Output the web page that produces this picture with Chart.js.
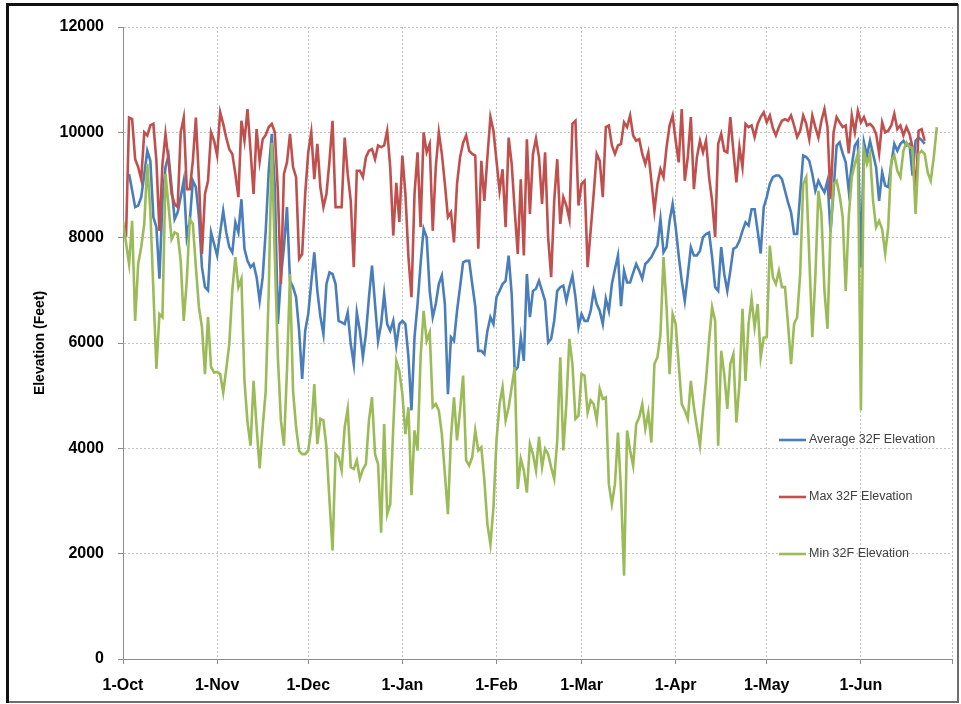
<!DOCTYPE html>
<html>
<head>
<meta charset="utf-8">
<title>32F Elevation</title>
<script src="https://cdn.jsdelivr.net/npm/chart.js@4.4.1/dist/chart.umd.min.js"></script>
<style>
    html, body { margin: 0; padding: 0; background: #ffffff; overflow: hidden; }
    canvas { display: block; }
</style>
</head>
<body>
<canvas id="elevationChart" width="961" height="704"></canvas>
<script>
// Daily values, day 0 = 1-Oct
const maxElevation = [
    null, 8010, 10280, 10250, 9490, 9340, 9110, 10000, 9940, 10130,
    10160, 9460, 8130, 9400, 9970, 9460, 8830, 8640, 8580, 10000,
    10280, 8920, 8920, 9460, 10280, 9110, 7690, 8830, 9080, 10000,
    9840, 9560, 10380, 10160, 9900, 9680, 9590, 9210, 8770, 10220,
    9840, 10440, 9650, 8830, 10060, 9450, 9870, 9950, 10100, 10160,
    10000, 8890, 7120, 9210, 9430, 9970, 9340, 9150, 7600, 7690,
    8830, 9620, 10000, 9110, 9780, 8960, 8580, 8830, 9460, 10220,
    8580, 8580, 8580, 9900, 9210, 8700, 7440, 9270, 9270, 9150,
    9530, 9650, 9680, 9490, 9750, 9720, 9750, 10030, 9340, 8040,
    9040, 8300, 9560, 8830, 7630, 6870, 8830, 9620, 8200, 10000,
    9620, 9780, 8130, 9340, 10000, 9590, 9020, 8390, 8480, 7910,
    9020, 9530, 9800, 9940, 9650, 9590, 9560, 7790, 9460, 8700,
    9530, 10290, 10030, 9460, 8890, 9300, 8200, 9900, 9400, 8510,
    7690, 9110, 7660, 9870, 8450, 9590, 9880, 9525, 8640, 9620,
    8010, 7250, 8700, 9490, 8260, 8770, 8610, 8350, 10160, 10220,
    8610, 9020, 9080, 7440, 8130, 8830, 9590, 9460, 8770, 10100,
    10130, 9750, 9590, 9750, 9780, 10190, 10100, 10320, 9940, 9840,
    9870, 9590, 9400, 9620, 9080, 8510, 9020, 9300, 9150, 9720,
    10130, 10320, 9840, 9430, 10440, 9080, 9530, 10290, 8920, 9530,
    9840, 9620, 9840, 9150, 8700, 8010, 9780, 9970, 9650, 9620,
    10290, 9650, 9050, 9720, 9340, 10160, 10100, 10130, 9910, 10160,
    10290, 10380, 10190, 10320, 10080, 9940, 10100, 10220, 10250, 10220,
    10320, 10130, 9910, 10030, 10320, 10160, 9870, 10320, 10100, 9900,
    10220, 10440, 10100, 8730, 10000, 10290, 10190, 10100, 10130, 9600,
    10320, 10000, 10410, 10190, 10290, 10130, 10160, 10100, 9970, 9600,
    10190, 10000, 10030, 10130, 10350, 10060, 10130, 9940, 10100, 9970,
    9720, 8800, 10030, 10060, 9840, null, null, null, null,
];

const avgElevation = [
    null, null, 9210, 8900, 8580, 8610, 8770, 9200, 9650, 9460,
    8390, 8200, 7220, 8700, 9340, 9560, 8960, 8350, 8480, 8770,
    9080, 8010, 8320, 9080, 8960, 8390, 7440, 7060, 7000, 8100,
    7880, 7660, 8100, 8510, 8100, 7820, 7720, 8290, 8100, 8730,
    7790, 7560, 7440, 7500, 7250, 6800, 7250, 8130, 9270, 9970,
    8960, 6360, 7250, 7820, 8580, 7180, 7060, 6870, 6230, 5320,
    6230, 6550, 7150, 7720, 6990, 6500, 6170, 7120, 7340, 7310,
    7120, 6420, 6390, 6360, 6580, 5980, 5600, 6580, 6230, 5730,
    6170, 6870, 7470, 6740, 6040, 6360, 6930, 6360, 6230, 6420,
    5950, 6360, 6420, 6360, 5730, 4720, 6110, 6740, 7500, 8170,
    8010, 6990, 6490, 6740, 7120, 7280, 6740, 5030, 6110, 6040,
    6610, 7060, 7530, 7560, 7560, 7120, 6700, 5850, 5850, 5790,
    6230, 6490, 6360, 6870, 6990, 7120, 7180, 7660, 6930, 5470,
    5540, 6110, 5660, 7310, 6490, 6990, 7030, 7180, 6990, 6800,
    6010, 6080, 6420, 6990, 7060, 7090, 6800, 7060, 7280, 6870,
    6300, 6550, 6420, 6420, 6610, 6990, 6740, 6610, 6360, 6840,
    6610, 7120, 7400, 7660, 6700, 7370, 7150, 7150, 7330, 7500,
    7370, 7220, 7500, 7560, 7630, 7750, 7850, 8350, 7720, 7820,
    8320, 8640, 8200, 7660, 7180, 6800, 7300, 7820, 7660, 7660,
    7750, 8010, 8070, 8100, 7630, 7060, 6990, 7820, 7310, 6990,
    7370, 7790, 7820, 7940, 8130, 8290, 8230, 8540, 8540, 8130,
    7700, 8580, 8770, 9020, 9150, 9180, 9180, 9110, 8890, 8670,
    8480, 8070, 8070, 8830, 9560, 9530, 9460, 9210, 8890, 9080,
    8960, 8860, 9080, 8100, 8890, 9750, 9810, 9600, 9430, 8890,
    9370, 9750, 9840, 7440, 9810, 9560, 9840, 9590, 9340, 8700,
    9240, 8990, 8960, 9400, 9780, 9650, 9780, 9840, 9750, 9780,
    9180, 9840, 9900, 9850, 9780, null, null, null, null,
];

const minElevation = [
    8320, 7900, 7500, 8320, 6420, 7500, 7820, 8260, 9400, 8510,
    7000, 5510, 6550, 6490, 9210, 8600, 7970, 8100, 8070, 7560,
    6420, 7180, 8350, 8260, 7440, 6680, 6300, 5410, 6490, 5540,
    5440, 5450, 5410, 5060, 5500, 5980, 7000, 7630, 7060, 7220,
    5280, 4500, 4050, 5280, 4400, 3620, 4400, 5090, 6990, 9800,
    7630, 5730, 4530, 4050, 5470, 7310, 5090, 4400, 3950, 3890,
    3890, 3960, 4370, 5220, 4080, 4560, 4530, 4020, 3000, 2060,
    3890, 3830, 3580, 4400, 4750, 3640, 3610, 3770, 3430, 3600,
    3700, 4530, 4970, 3890, 3700, 2400, 4460, 2750, 2940, 4400,
    5660, 5470, 5030, 4270, 4780, 3110, 4340, 3960, 5730, 6610,
    6040, 6200, 4780, 4840, 4720, 4270, 3510, 2750, 4210, 4970,
    4150, 4720, 5380, 3770, 3670, 3830, 4340, 3960, 4020, 3390,
    2560, 2180, 2880, 4150, 4840, 5160, 4530, 4780, 5160, 5540,
    3230, 3800, 3580, 3160, 4080, 3890, 3580, 4220, 3640, 3990,
    3890, 3640, 3420, 4150, 5730, 3960, 4840, 6080, 5600, 4560,
    4620, 5410, 5380, 4680, 4910, 4840, 4530, 5130, 4940, 4970,
    3320, 2940, 3320, 4300, 3200, 1580, 4340, 3960, 3670, 4460,
    4590, 4840, 4370, 4680, 4110, 5600, 5730, 6170, 7630, 6680,
    5410, 6550, 6360, 5600, 4840, 4720, 4560, 5280, 4780, 4400,
    4050, 4720, 5300, 6040, 6680, 6420, 4050, 5850, 5410, 4750,
    5600, 5790, 4490, 5220, 6650, 5280, 6360, 6840, 6300, 6740,
    5730, 6100, 6110, 7850, 7250, 7120, 7370, 7060, 7060, 6360,
    5600, 6360, 6490, 7310, 9020, 9150, 7630, 6110, 7250, 8890,
    8450, 6990, 6270, 8130, 9020, 9080, 8800, 8390, 6990, 8400,
    9150, 9400, 9590, 4720, 9650, 9400, 9590, 8700, 8200, 8320,
    8160, 7700, 8200, 9460, 9560, 9270, 9150, 9650, 9810, 9720,
    9700, 8450, 9590, 9650, 9590, 9240, 9080, 9530, 10100,
];

// Month starts as day offsets from 1-Oct, with their tick labels
const monthStarts = [0, 31, 61, 92, 123, 151, 182, 212, 243, 273];
const monthLabels = ["1-Oct", "1-Nov", "1-Dec", "1-Jan", "1-Feb", "1-Mar", "1-Apr", "1-May", "1-Jun", ""];

const seriesNames = ["Average 32F Elevation", "Max 32F Elevation", "Min 32F Elevation"];

const colors = {
    avg: "#4a7ebb",
    max: "#c0504d",
    min: "#9bbb59",
    grid: "#c4c4c4",
    axis: "#8c8c8c",
};

Chart.defaults.font.family = "'Liberation Sans', Arial, sans-serif";

function toPoints(values) {
    return values.map((v, i) => ({ x: i, y: v }));
}

function makeSeries(label, values, color, order) {
    return {
        label: label,
        data: toPoints(values),
        borderColor: color,
        backgroundColor: color,
        borderWidth: 2.6,
        pointRadius: 0,
        tension: 0,
        order: order, // Excel draws min on top
    };
}

// Legend sits inside the plot, right side, widely spaced
const insideLegend = {
    id: "insideLegend",
    afterDatasetsDraw(chart) {
        const ctx = chart.ctx;
        const rows = [440, 497, 554];
        ctx.save();
        ctx.font = "12.5px 'Liberation Sans', Arial, sans-serif";
        ctx.textBaseline = "middle";
        ctx.fillStyle = "#404040";
        chart.data.datasets.forEach((ds, i) => {
            const y = rows[i];
            ctx.strokeStyle = ds.borderColor;
            ctx.lineWidth = 2.6;
            ctx.beginPath();
            ctx.moveTo(779, y);
            ctx.lineTo(806, y);
            ctx.stroke();
            ctx.fillText(ds.label, 809, y);
        });
        ctx.restore();
    },
};

// Outer picture frame
const frame = {
    id: "frame",
    afterDraw(chart) {
        const ctx = chart.ctx;
        ctx.save();
        ctx.strokeStyle = "#6e6e6e";
        ctx.lineWidth = 2;
        ctx.strokeRect(8, 5, 950, 697);
        ctx.strokeStyle = "#111111";
        ctx.lineWidth = 3;
        ctx.beginPath();
        ctx.moveTo(7.5, 703);
        ctx.lineTo(7.5, 4.5);
        ctx.lineTo(958, 4.5);
        ctx.stroke();
        ctx.restore();
    },
};

document.addEventListener("DOMContentLoaded", () => {
    const ctx = document.getElementById("elevationChart").getContext("2d");

    new Chart(ctx, {
        type: "line",
        data: {
            datasets: [
                makeSeries(seriesNames[0], avgElevation, colors.avg, 3),
                makeSeries(seriesNames[1], maxElevation, colors.max, 2),
                makeSeries(seriesNames[2], minElevation, colors.min, 1),
            ],
        },
        options: {
            responsive: false,
            animation: false,
            devicePixelRatio: 1,
            layout: {
                padding: { left: 0, right: 9, top: 27, bottom: 0 },
            },
            plugins: {
                legend: { display: false },
                tooltip: { enabled: false },
            },
            scales: {
                x: {
                    type: "linear",
                    min: 0,
                    max: 273,
                    afterBuildTicks: (axis) => {
                        axis.ticks = monthStarts.map((v) => ({ value: v }));
                    },
                    afterFit: (scale) => {
                        scale.height = 45;
                        scale.paddingRight = 0; // last label is empty
                    },
                    ticks: {
                        autoSkip: false,
                        maxRotation: 0,
                        padding: 12,
                        color: "#000000",
                        font: { size: 16, weight: "bold" },
                        callback: (value, index) => monthLabels[index],
                    },
                    grid: {
                        color: colors.grid,
                        tickColor: colors.axis,
                        tickLength: 5,
                    },
                    border: { color: colors.axis, dash: [2, 2] },
                },
                y: {
                    min: 0,
                    max: 12000,
                    afterFit: (scale) => {
                        scale.width = 123;
                    },
                    ticks: {
                        stepSize: 2000,
                        padding: 14,
                        color: "#000000",
                        font: { size: 16, weight: "bold" },
                        callback: (value) => String(value),
                    },
                    grid: {
                        color: colors.grid,
                        tickColor: colors.axis,
                        tickLength: 5,
                    },
                    border: { color: colors.axis, dash: [2, 2] },
                    title: {
                        display: true,
                        text: "Elevation (Feet)",
                        color: "#000000",
                        font: { size: 14, weight: "bold" },
                        padding: { top: 32, bottom: 0 },
                    },
                },
            },
        },
        plugins: [insideLegend, frame],
    });
});
</script>
</body>
</html>
